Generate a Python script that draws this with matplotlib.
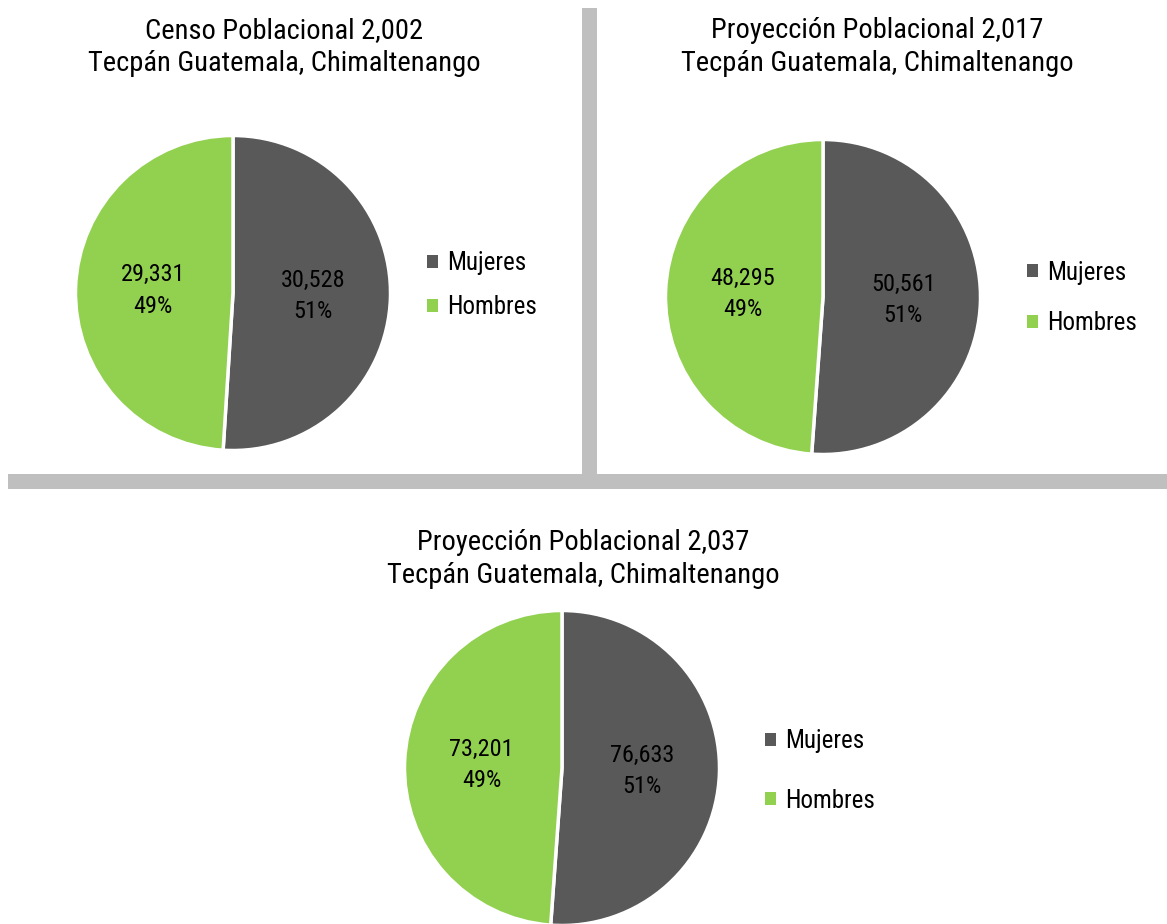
import matplotlib
matplotlib.use("Agg")
import matplotlib.pyplot as plt
from matplotlib.patches import Rectangle, Patch

plt.rcParams['font.family'] = ["Roboto Condensed", 'DejaVu Sans']

categories = ["Mujeres", "Hombres"]
titles = ["Censo Poblacional 2,002\nTecpán Guatemala, Chimaltenango",
          "Proyección Poblacional 2,017\nTecpán Guatemala, Chimaltenango",
          "Proyección Poblacional 2,037\nTecpán Guatemala, Chimaltenango"]
censo_2002 = [30528, 29331]
proy_2017 = [50561, 48295]
proy_2037 = [76633, 73201]
colors = ["#595959", "#92D050"]

W, H = 1167, 924
fig = plt.figure(figsize=(W / 100, H / 100), dpi=100)

def px_axes(left, top, right, bottom):
    return fig.add_axes([left / W, 1 - bottom / H, (right - left) / W, (bottom - top) / H])

def fx(x): return x / W
def fy(y): return 1 - y / H

# separators
fig.add_artist(Rectangle((fx(582), fy(475)), 15 / W, 467 / H, transform=fig.transFigure,
                         color="#BFBFBF", lw=0))
fig.add_artist(Rectangle((fx(8), fy(489)), (W - 8) / W, 15 / H, transform=fig.transFigure,
                         color="#BFBFBF", lw=0))

# (values, pie centre, title centre, legend left/centre, legend spacing)
panels = [
    (censo_2002, (233, 293), (284, 47), (427, 285), 0.80),
    (proy_2017, (823, 297), (877, 47), (1027, 298), 1.05),
    (proy_2037, (562, 768), (583, 559), (765, 771), 1.42),
]
R = 157.5
for (vals, (cx, cy), (tx, ty), (lx, ly), lsp), title in zip(panels, titles):
    ax = px_axes(cx - R, cy - R, cx + R, cy + R)
    total = sum(vals)
    wedges, texts = ax.pie(vals, colors=colors, startangle=90, counterclock=False,
                           radius=1, wedgeprops=dict(edgecolor="white", linewidth=2.5),
                           labels=[f"{v:,}\n{round(100 * v / total)}%" for v in vals],
                           labeldistance=0.51,
                           textprops=dict(fontsize=17.5, color="black", ha="center",
                                          va="center", linespacing=1.45))
    ax.set_xlim(-1, 1)
    ax.set_ylim(-1, 1)
    ax.set_aspect("equal")
    ax.axis("off")
    fig.text(fx(tx), fy(ty), title, ha="center", va="center", fontsize=20.5,
             linespacing=1.33)
    handles = [Patch(facecolor=c, edgecolor="none") for c in colors]
    fig.legend(handles, categories, loc="center left", bbox_to_anchor=(fx(lx), fy(ly)),
               frameon=False, fontsize=18, handlelength=0.42, handleheight=0.42,
               handletextpad=0.38, labelspacing=lsp, borderpad=0, borderaxespad=0)

fig.savefig("out.png", dpi=100)
